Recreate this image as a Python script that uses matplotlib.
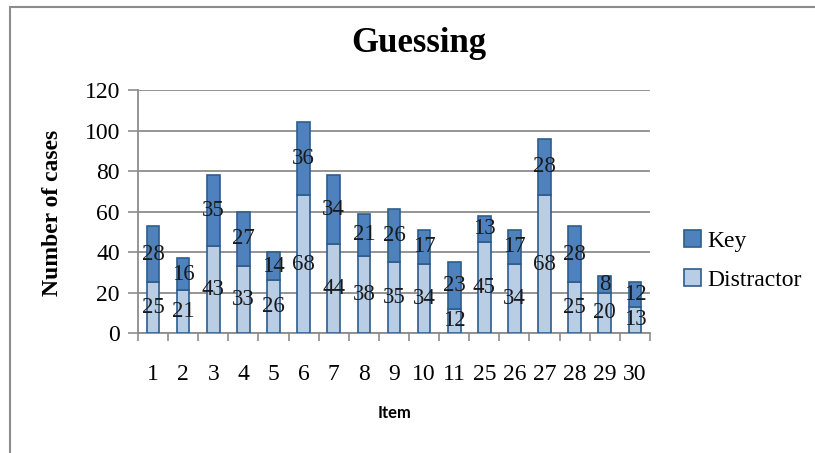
import matplotlib.pyplot as plt
import numpy as np
from matplotlib.patches import Rectangle

items = ["1", "2", "3", "4", "5", "6", "7", "8", "9", "10", "11",
         "25", "26", "27", "28", "29", "30"]
distractor = [25, 21, 43, 33, 26, 68, 44, 38, 35, 34, 12, 45, 34, 68, 25, 20, 13]
key = [28, 16, 35, 27, 14, 36, 34, 21, 26, 17, 23, 13, 17, 28, 28, 8, 12]

serif = ["Liberation Serif", "DejaVu Serif"]
edge = "#2E5C8E"

fig = plt.figure(figsize=(8.15, 4.53), dpi=100)
ax = fig.add_axes([0.1693, 0.2649, 0.6282, 0.5364])

# outer chart frame (left and top edges visible)
fig.add_artist(Rectangle((10 / 815, -0.05), 1.2, 1 - 7 / 453 + 0.05,
                         transform=fig.transFigure, fill=False,
                         edgecolor="#8c8c8c", linewidth=1.5))

x = np.arange(len(items))
w = 0.42
b1 = ax.bar(x, distractor, w, color="#B9CDE5", edgecolor=edge,
            linewidth=1.2, label="Distractor", zorder=3)
b2 = ax.bar(x, key, w, bottom=distractor, color="#4F81BD", edgecolor=edge,
            linewidth=1.2, label="Key", zorder=3)

for i in range(len(items)):
    ax.text(x[i], distractor[i] / 2, str(distractor[i]), ha="center",
            va="center", fontsize=16.5, family=serif, color="#1a1a1a", zorder=4)
    ax.text(x[i], distractor[i] + key[i] / 2, str(key[i]), ha="center",
            va="center", fontsize=16.5, family=serif, color="#1a1a1a", zorder=4)

ax.set_xlim(-0.5, len(items) - 0.5)
ax.set_ylim(0, 120)
ax.set_yticks(range(0, 121, 20))
ax.yaxis.grid(True, color="#8c8c8c", linewidth=1.3, zorder=0)
ax.set_axisbelow(True)
for s in ["top", "right"]:
    ax.spines[s].set_visible(False)
ax.spines["left"].set_color("#8c8c8c")
ax.spines["bottom"].set_color("#8c8c8c")
ax.spines["left"].set_linewidth(1.3)
ax.spines["bottom"].set_linewidth(1.3)

ax.set_xticks(x)
ax.set_xticklabels(items, family=serif, fontsize=17)
ax.tick_params(axis="x", length=0, pad=22)
ax.set_xticks(np.arange(-0.5, len(items), 1), minor=True)
ax.tick_params(axis="x", which="minor", length=6, color="#8c8c8c", width=1.2)
ax.tick_params(axis="y", length=7, color="#8c8c8c", width=1.2, pad=6)
for t in ax.get_yticklabels():
    t.set_family(serif)
    t.set_fontsize(17)

fig.text(419 / 815, 1 - 43 / 453, "Guessing", family=serif, fontsize=25,
         fontweight="bold", ha="center", va="center")
fig.text(52 / 815, 1 - 213 / 453, "Number of cases", family=serif,
         fontsize=17, fontweight="bold", rotation=90, ha="center",
         va="center")
fig.text(395 / 815, 1 - 413 / 453, "Item", family=["Lato", "DejaVu Sans"],
         fontsize=12, fontweight="bold", ha="center", va="center")

leg = fig.legend(handles=[b2, b1], labels=["Key", "Distractor"],
                 loc="center left", bbox_to_anchor=(684 / 815, 0.425),
                 frameon=False, prop={"family": serif, "size": 17},
                 handlelength=0.7, handleheight=0.7, handletextpad=0.3,
                 labelspacing=0.75, borderpad=0, borderaxespad=0)

fig.savefig("out.png", dpi=100)
